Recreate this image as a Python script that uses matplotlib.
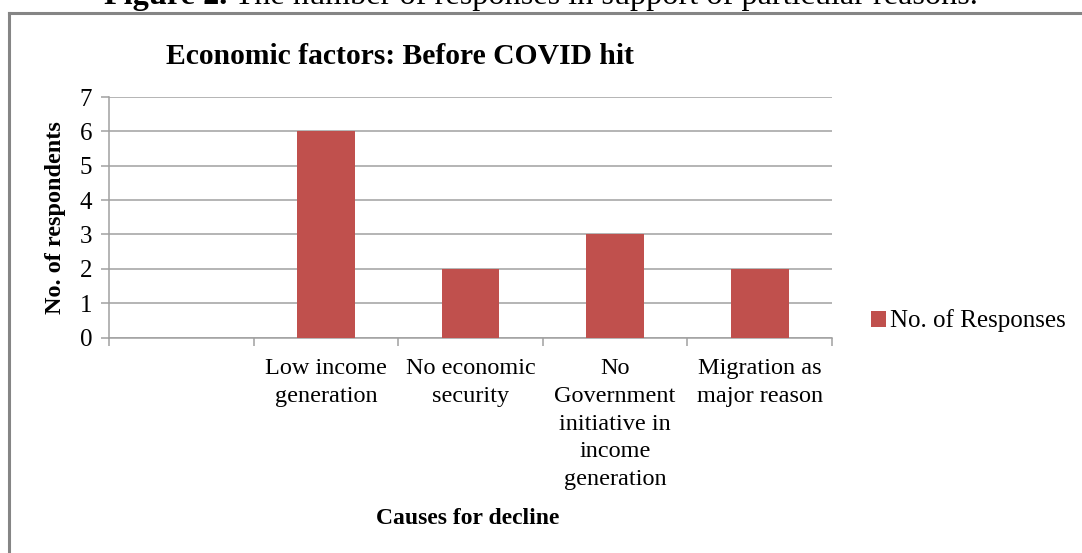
import matplotlib
matplotlib.use("Agg")
import matplotlib.pyplot as plt
from matplotlib.lines import Line2D

categories = ["", "Low income\ngeneration", "No economic\nsecurity",
              "No\nGovernment\ninitiative in\nincome\ngeneration",
              "Migration as\nmajor reason"]
responses = [0, 6, 2, 3, 2]
series_name = "No. of Responses"
yticks = [0, 1, 2, 3, 4, 5, 6, 7]
title = "Economic factors: Before COVID hit"
xlabel = "Causes for decline"
ylabel = "No. of respondents"
caption_bold = "Figure 2."
caption_rest = " The number of responses in support of particular reasons."

plt.rcParams['font.family'] = ['Liberation Serif', 'DejaVu Serif']
W, H = 1082, 553
fig = plt.figure(figsize=(W / 100, H / 100), dpi=100)
fig.patch.set_facecolor('white')

def fx(px): return px / W
def fy(py): return 1 - py / H

# outer frame (extends past right/bottom edges)
fig.add_artist(Line2D([fx(9), fx(9)], [fy(13), fy(560)], color='#858585', lw=2.2,
                      transform=fig.transFigure))
fig.add_artist(Line2D([fx(9), fx(1090)], [fy(13), fy(13)], color='#858585', lw=2.2,
                      transform=fig.transFigure))

gray = '#a0a0a0'
ax = fig.add_axes([fx(109), fy(337.5), fx(832) - fx(109), fy(97) - fy(337.5)])
x = list(range(len(categories)))
ax.bar(x, responses, width=0.4, color='#c0504d', label=series_name, zorder=3)
ax.set_xlim(-0.5, len(categories) - 0.5)
ax.set_ylim(0, 7)
ax.set_yticks(yticks)
ax.yaxis.grid(True, color=gray, lw=1.1, zorder=0)
for s in ['top', 'right']:
    ax.spines[s].set_visible(False)
for s in ['left', 'bottom']:
    ax.spines[s].set_color(gray)
    ax.spines[s].set_linewidth(1.1)
ax.tick_params(axis='y', length=6, color=gray, labelsize=18, pad=6, width=1.1)
ax.set_xticks([i - 0.5 for i in range(len(categories) + 1)])
ax.set_xticklabels([])
ax.tick_params(axis='x', which='major', length=6, color=gray, width=1.1)
ax.set_xticks(x, minor=True)
ax.set_xticklabels(categories, minor=True, fontsize=17.5, linespacing=1.42)
ax.tick_params(axis='x', which='minor', length=0, pad=15)

ax.set_ylabel(ylabel, fontsize=17.5, fontweight='bold', labelpad=10)
fig.text(fx(468), fy(518), xlabel, fontsize=17, fontweight='bold', ha='center', va='center')
fig.text(fx(400), fy(57), title, fontsize=21.3, fontweight='bold', ha='center', va='center')

leg = ax.legend(loc='center left', bbox_to_anchor=(fx(858), fy(321)),
                bbox_transform=fig.transFigure, frameon=False, fontsize=18,
                handlelength=0.6, handleheight=0.6, handletextpad=0.2, borderpad=0)

# caption, partially cut at top (as in the reference)
fig.canvas.draw()
r = fig.canvas.get_renderer()
t1 = fig.text(0, fy(4), caption_bold, fontsize=23.2, fontweight='bold', va='baseline')
t2 = fig.text(0, fy(4), caption_rest, fontsize=23.2, va='baseline')
w1 = t1.get_window_extent(r).width
w2 = t2.get_window_extent(r).width
start = 541 - (w1 + w2) / 2
t1.set_x(fx(start))
t2.set_x(fx(start + w1))

fig.savefig('out.png', dpi=100)
